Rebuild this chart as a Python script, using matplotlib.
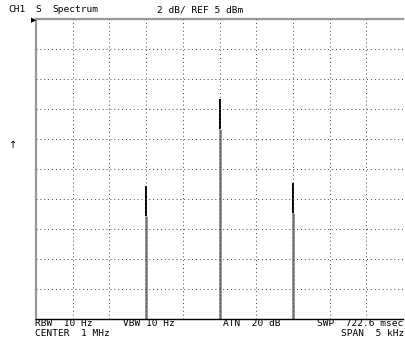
import numpy as np
import matplotlib.pyplot as plt

# Analyzer settings
center_khz = 1000.0
span_khz = 5.0
ref_dbm = 5.0
db_per_div = 2.0

# Peaks
peak_freq_khz = [999.0, 1000.0, 1001.0]
peak_dbm = [-6.1, -0.3, -5.9]
shoulder_dbm = [-8.1, -2.3, -7.9]

header_left = ["CH1", "S", "Spectrum"]
header_mid = "2 dB/ REF 5 dBm"
footer_row1 = [("RBW  10 Hz", 35), ("VBW 10 Hz", 123), ("ATN  20 dB", 223), ("SWP  722.6 msec", 317)]
footer_row2 = [("CENTER  1 MHz", 35)]
footer_right = "SPAN  5 kHz"

W, H = 405, 343
fig = plt.figure(figsize=(W / 100, H / 100), dpi=100)
ax = fig.add_axes([36 / W, 1 - 319 / H, 367 / W, 300 / H])

x0 = center_khz - span_khz / 2
x1 = center_khz + span_khz / 2
y1 = ref_dbm
y0 = ref_dbm - 10 * db_per_div
ax.set_xlim(x0, x1)
ax.set_ylim(y0, y1)

# peaks: gray lower body, black top
ax.vlines(peak_freq_khz, y0, shoulder_dbm, color="#7a7a7a", lw=1.8, zorder=2)
ax.vlines(peak_freq_khz, shoulder_dbm, peak_dbm, color="black", lw=1.4, zorder=3)

# dotted graticule
for i in range(1, 10):
    ax.axvline(x0 + i * span_khz / 10, color="#444444", lw=0.7, ls=(0, (1, 3)), zorder=4)
    ax.axhline(y0 + i * db_per_div, color="#444444", lw=0.7, ls=(0, (1, 3)), zorder=4)

ax.set_xticks([])
ax.set_yticks([])
ax.spines["right"].set_visible(False)
ax.spines["top"].set_color("#999999")
ax.spines["top"].set_linewidth(1.6)
ax.spines["left"].set_color("#999999")
ax.spines["left"].set_linewidth(1.6)
ax.spines["bottom"].set_color("black")
ax.spines["bottom"].set_linewidth(1.0)

font = dict(family="DejaVu Sans Mono", fontsize=6.8, color="black")

def px(x, y):
    return x / W, 1 - y / H

fig.text(*px(8, 10), header_left[0], va="center", ha="left", **font)
fig.text(*px(35, 10), header_left[1], va="center", ha="left", **font)
fig.text(*px(52, 10), header_left[2], va="center", ha="left", **font)
fig.text(*px(157, 10), header_mid, va="center", ha="left", **font)

for txt, x in footer_row1:
    fig.text(*px(x, 323.2), txt, va="center", ha="left", **font)
for txt, x in footer_row2:
    fig.text(*px(x, 333.2), txt, va="center", ha="left", **font)
fig.text(*px(404, 333.2), footer_right, va="center", ha="right", **font)

# reference level marker and arrow
fig.text(*px(34, 20), "\u25B6", va="center", ha="center", fontsize=5, family="DejaVu Sans")
fig.text(*px(13, 145), "\u2191", va="center", ha="center", fontsize=7, family="DejaVu Sans")

fig.savefig("out.png", dpi=100)
